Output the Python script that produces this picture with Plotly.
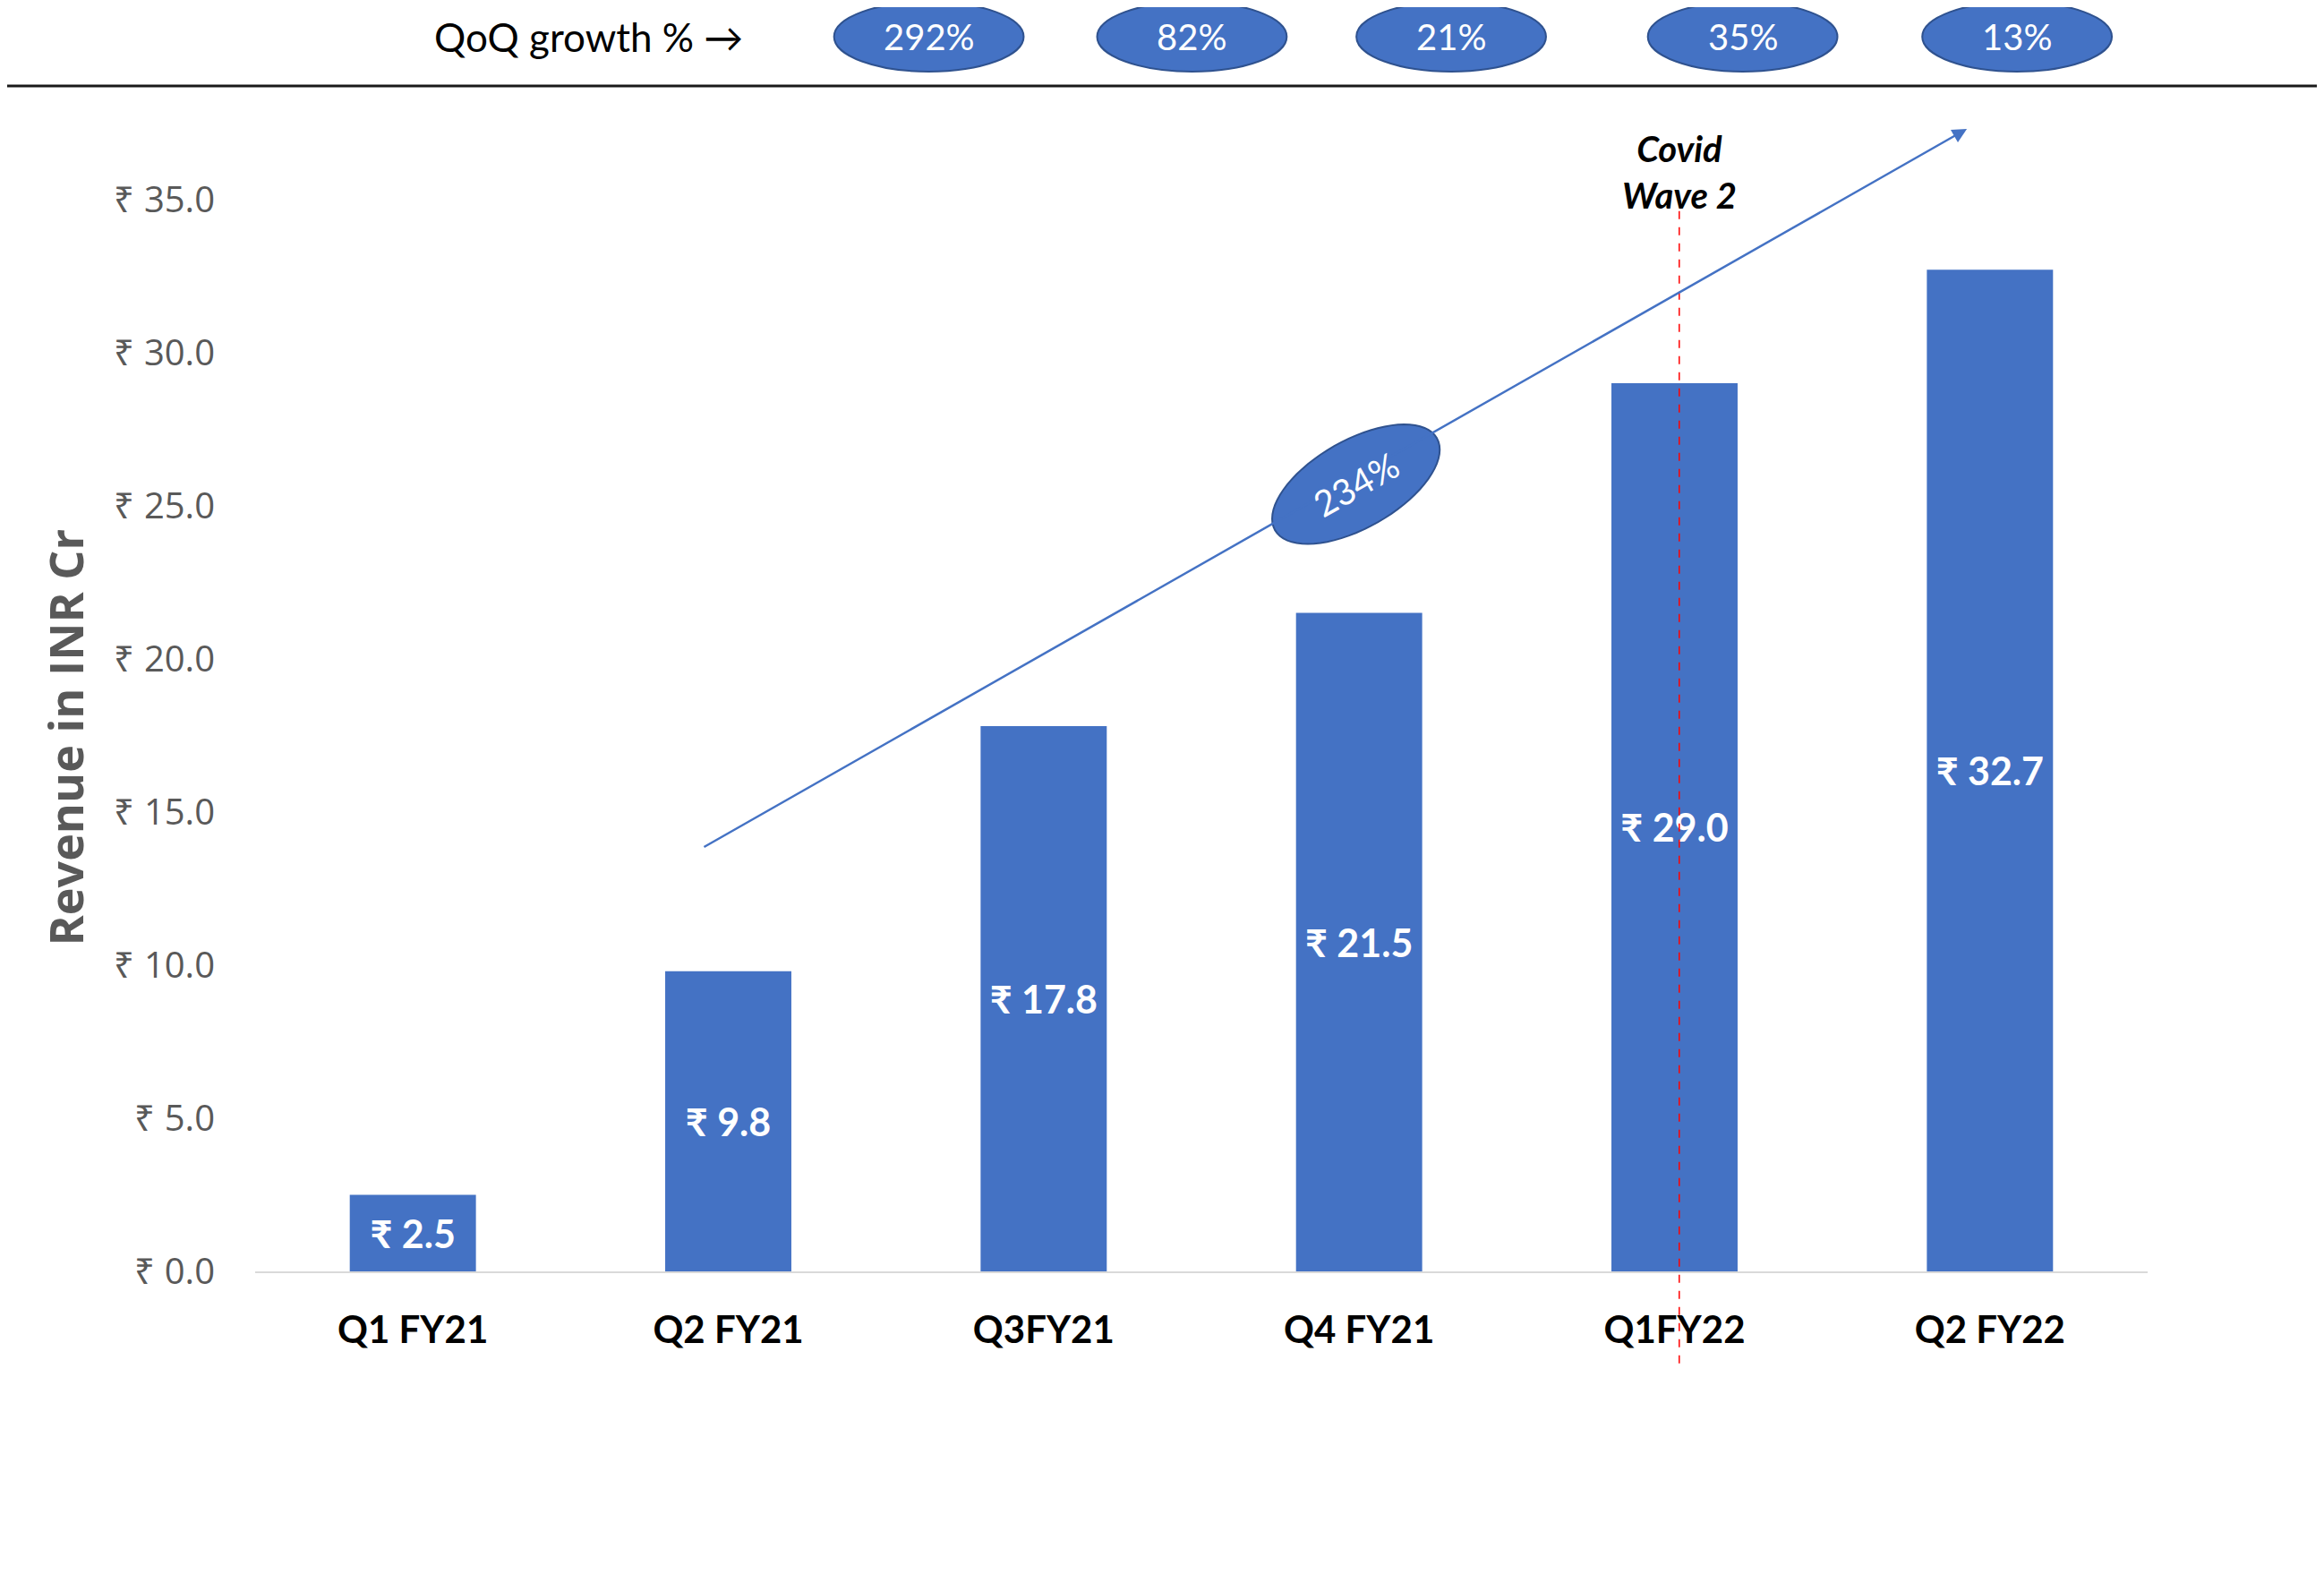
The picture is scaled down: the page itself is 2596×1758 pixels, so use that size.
import numpy as np
import plotly.graph_objects as go

# ---- data ----
quarters = ["Q1 FY21", "Q2 FY21", "Q3FY21", "Q4 FY21", "Q1FY22", "Q2 FY22"]
revenue = [2.5, 9.8, 17.8, 21.5, 29.0, 32.7]
y_ticks = [0, 5, 10, 15, 20, 25, 30, 35]
y_ticktext = [f"₹ {v:.1f}" for v in y_ticks]

# QoQ growth derived from revenue
qoq = [(revenue[i] / revenue[i - 1] - 1) * 100 for i in range(1, len(revenue))]
qoq_labels = [f"{g:.0f}%" for g in qoq]
# growth Q2 FY21 -> Q2 FY22
yoy = (revenue[5] / revenue[1] - 1) * 100
yoy_label = f"{yoy:.0f}%"

BLUE = "#4472C4"
BLUE_EDGE = "#2F528F"
# page body adds an 8px offset, so the figure is 8px smaller and margins shifted
W, H = 2588, 1750
ML, MR, MT, MB = 277, 197, 112, 338
PW = W - ML - MR

fig = go.Figure()
fig.add_trace(go.Bar(
    x=list(range(len(quarters))), y=revenue,
    marker=dict(color=BLUE, line=dict(width=0)),
    texttemplate="₹ %{y:.1f}", textposition="inside", insidetextanchor="middle",
    textangle=0, constraintext="none",
    textfont=dict(family="Lato, DejaVu Sans", size=43, color="white", weight="bold"),
    hoverinfo="skip", showlegend=False,
))

shapes = []
annotations = []

HY = 1.0608  # header row (paper)

# header line
shapes.append(dict(type="line", xref="paper", yref="paper",
                   x0=(-ML - 10) / PW, x1=(W - ML + 10) / PW,
                   y0=1.0185, y1=1.0185, line=dict(color="#1a1a1a", width=3)))

annotations.append(dict(text="QoQ growth % →", xref="paper", yref="paper",
                        x=0.1764, y=HY, xanchor="center", yanchor="middle", showarrow=False,
                        font=dict(family="Lato", size=44, color="black")))

# QoQ ellipses in header
header_x = [0.356, 0.495, 0.632, 0.786, 0.931]
hw, hh = 0.0501, 0.030
for xc, lab in zip(header_x, qoq_labels):
    shapes.append(dict(type="circle", xref="paper", yref="paper",
                       x0=xc - hw, x1=xc + hw, y0=HY - hh, y1=HY + hh,
                       fillcolor=BLUE, line=dict(color=BLUE_EDGE, width=2), layer="above"))
    annotations.append(dict(text=lab, xref="paper", yref="paper", x=xc, y=HY,
                            xanchor="center", yanchor="middle", showarrow=False,
                            font=dict(family="Lato", size=40, color="white")))

# trend arrow
annotations.append(dict(text="", x=4.927, y=37.3, ax=0.919, ay=13.83,
                        xref="x", yref="y", axref="x", ayref="y",
                        showarrow=True, arrowhead=2, arrowsize=1.3, arrowwidth=2.5,
                        arrowcolor=BLUE))

# rotated ellipse with 234%
ang = np.deg2rad(29.6)
a, b = 104, 49
t = np.linspace(0, 2 * np.pi, 73)
px = a * np.cos(t) * np.cos(ang) - b * np.sin(t) * np.sin(ang)
py = a * np.cos(t) * np.sin(ang) + b * np.sin(t) * np.cos(ang)
path = "M " + " L ".join(f"{u:.2f},{v:.2f}" for u, v in zip(px, py)) + " Z"
shapes.append(dict(type="path", xref="x", yref="y", xsizemode="pixel", ysizemode="pixel",
                   xanchor=2.99, yanchor=25.7, path=path,
                   fillcolor=BLUE, line=dict(color=BLUE_EDGE, width=2), layer="above"))
annotations.append(dict(text=yoy_label, x=2.99, y=25.7, xref="x", yref="y",
                        xanchor="center", yanchor="middle",
                        showarrow=False, textangle=-29.6,
                        font=dict(family="Lato", size=40, color="white")))

# Covid wave 2 marker
shapes.append(dict(type="line", xref="x", yref="paper", x0=4.015, x1=4.015,
                   y0=-0.079, y1=0.914, line=dict(color="#FF0000", width=1.5, dash="dash"),
                   layer="above"))
annotations.append(dict(text="<b><i>Covid<br>Wave 2</i></b>", x=4.015, y=0.945,
                        xref="x", yref="paper", xanchor="center", yanchor="middle",
                        showarrow=False,
                        font=dict(family="Lato", size=40, color="black")))

# y-axis title (placed as a rotated annotation to match the reference offset)
annotations.append(dict(text="<b>Revenue in INR Cr</b>", xref="paper", yref="paper",
                        x=-0.1005, y=0.4585, xanchor="center", yanchor="middle",
                        textangle=-90, showarrow=False,
                        font=dict(family="Open Sans", size=52, color="#595959")))

fig.update_layout(
    width=W, height=H,
    margin=dict(l=ML, r=MR, t=MT, b=MB, autoexpand=False),
    paper_bgcolor="white", plot_bgcolor="white",
    bargap=0.6,
    shapes=shapes, annotations=annotations,
    xaxis=dict(range=[-0.5, 5.5], tickvals=list(range(len(quarters))), ticktext=quarters,
               showgrid=False, zeroline=False, showline=True, linecolor="#D9D9D9",
               linewidth=2, ticks="", ticklabelstandoff=28,
               tickfont=dict(family="Lato", size=42, color="black", weight="bold")),
    yaxis=dict(range=[0, 38], tickvals=y_ticks, ticktext=y_ticktext,
               showgrid=False, zeroline=False, showline=False, ticks="",
               ticklabelstandoff=44,
               tickfont=dict(family="Open Sans", size=40, color="#595959")),
)

fig.write_html("out.html")
